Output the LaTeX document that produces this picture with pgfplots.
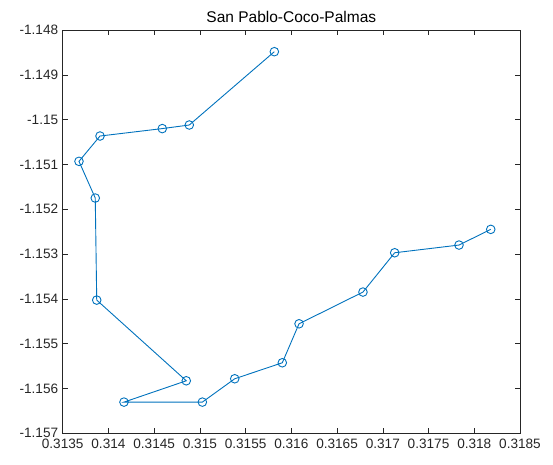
\documentclass[border=0pt]{standalone}
\usepackage{fontspec}
\setmainfont{Liberation Sans}
\usepackage{pgfplots}
\pgfplotsset{compat=1.18}
\definecolor{mlblue}{RGB}{0,114,189}
\definecolor{axgray}{RGB}{38,38,38}
\begin{document}
\begin{tikzpicture}
\begin{axis}[
  at={(0,0)}, anchor=south west,
  scale only axis,
  width=457.3bp, height=403.3bp,
  xmin=0.3135, xmax=0.3185,
  ymin=-1.157, ymax=-1.148,
  xtick={0.3135,0.314,0.3145,0.315,0.3155,0.316,0.3165,0.317,0.3175,0.318,0.3185},
  xticklabels={0.3135,0.314,0.3145,0.315,0.3155,0.316,0.3165,0.317,0.3175,0.318,0.3185},
  ytick={-1.157,-1.156,-1.155,-1.154,-1.153,-1.152,-1.151,-1.15,-1.149,-1.148},
  yticklabels={-1.157,-1.156,-1.155,-1.154,-1.153,-1.152,-1.151,-1.15,-1.149,-1.148},
  scaled ticks=false,
  tick align=inside,
  major tick length=5bp,
  axis line style={axgray, line width=0.6bp},
  every tick/.style={axgray, line width=0.6bp},
  tick label style={font=\fontsize{13.6bp}{15bp}\selectfont, text=axgray},
  xticklabel style={yshift=-2bp},
  yticklabel style={xshift=-1bp},
  title={San Pablo-Coco-Palmas},
  title style={font=\fontsize{15.5bp}{17bp}\selectfont, text=black, yshift=-2bp},
  clip=false,
]
\addplot[color=mlblue, line width=0.9bp, mark=o,
  mark options={line width=0.9bp, fill=none}, mark size=4.3bp]
coordinates {
  (0.315814,-1.148484)
  (0.314884,-1.150120)
  (0.314589,-1.150200)
  (0.313908,-1.150366)
  (0.313678,-1.150931)
  (0.313856,-1.151750)
  (0.313872,-1.154027)
  (0.314851,-1.155828)
  (0.314170,-1.156304)
  (0.315027,-1.156304)
  (0.315381,-1.155783)
  (0.315901,-1.155426)
  (0.316084,-1.154556)
  (0.316783,-1.153848)
  (0.317130,-1.152971)
  (0.317833,-1.152799)
  (0.318180,-1.152449)
};
\end{axis}
\path[use as bounding box] (-62.7bp,-31.7bp) rectangle (490.3bp,433.3bp);
\end{tikzpicture}
\end{document}
